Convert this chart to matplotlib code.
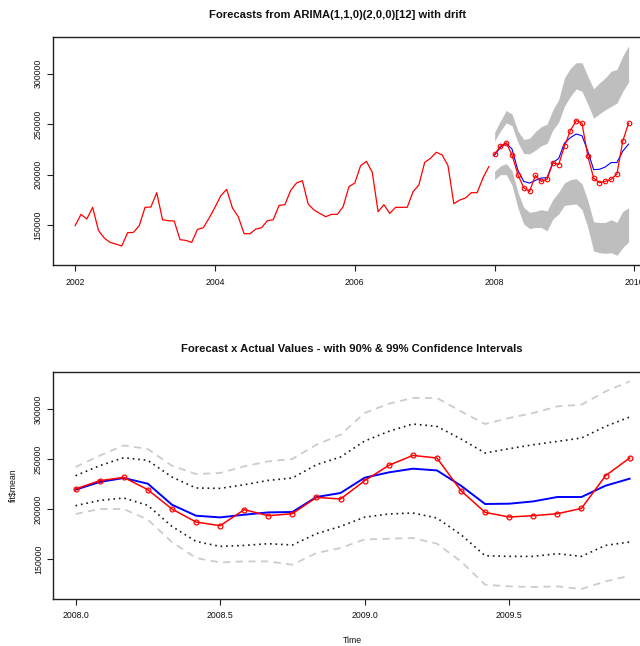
import numpy as np
import matplotlib
matplotlib.use("Agg")
import matplotlib.pyplot as plt

plt.rcParams['font.family'] = ['Liberation Sans', 'DejaVu Sans']

# ---- data ----
hist_start = 2002.0
hist_values = [149400, 160600, 156000, 167600, 144700, 137100, 132800, 131200, 129200, 142400, 142700, 149400,
               167600, 167900, 182100, 155300, 154300, 154000, 135500, 134800, 132800, 145700, 147400, 157000,
               167600, 179100, 185400, 166900, 158300, 141400, 141400, 146000, 147400, 154300, 155300, 169500,
               170200, 184400, 191700, 194000, 170900, 164900, 161600, 158300, 160600, 160600, 168200, 188100,
               191700, 208900, 213200, 202300, 163300, 170200, 161600, 167600, 167600, 167600, 183100, 189700,
               212200, 216200, 222200, 219500, 208900, 171200, 174800, 176800, 182100, 182100, 196700, 207900]

fc_start = 2008.0
actual = [220000, 228300, 231600, 219300, 200000, 187000, 183300, 199300, 193300, 195300, 211600, 210000,
          228300, 243600, 253600, 251000, 218300, 196600, 192000, 193300, 195300, 200600, 233300, 251000]
fc_mean = [219300, 227000, 231000, 225300, 204300, 193300, 191600, 194300, 196600, 197000, 212000, 216000,
           231300, 236600, 240300, 238600, 223300, 205000, 205300, 207600, 212000, 212000, 223300, 230300]
upper90 = [233300, 243300, 251300, 248600, 232000, 221000, 220600, 224300, 228600, 231000, 244300, 252000,
           268000, 277600, 285000, 282600, 270000, 256000, 260300, 264300, 267600, 271000, 282600, 292000]
lower90 = [203300, 208600, 211000, 203600, 182600, 167600, 162600, 163600, 165300, 164000, 175300, 182600,
           191800, 195000, 196000, 191000, 174300, 153300, 152600, 152600, 155300, 152600, 163600, 167000]
upper99 = [242000, 253300, 263600, 260000, 243300, 235000, 236000, 242600, 247600, 250000, 264300, 274300,
           296000, 305300, 311000, 311000, 297600, 285000, 291000, 296000, 302600, 304300, 317600, 327600]
lower99 = [195000, 200000, 200000, 189300, 167000, 151000, 146600, 147600, 147600, 144300, 156000, 161000,
           169600, 170300, 171000, 165300, 147600, 124300, 122600, 122000, 122600, 120000, 127600, 133300]

top_xticks = [2002, 2004, 2006, 2008, 2010]
bot_xticks = [2008.0, 2008.5, 2009.0, 2009.5]
yticks = [150000, 200000, 250000, 300000]

t_hist = hist_start + np.arange(len(hist_values)) / 12.0
t_fc = fc_start + np.arange(len(actual)) / 12.0

W, H = 640, 646
fig = plt.figure(figsize=(W / 100, H / 100), dpi=100)

def px_axes(left, top, right, bottom):
    return fig.add_axes([left / W, 1 - bottom / H, (right - left) / W, (bottom - top) / H])

def style(ax):
    for s in ax.spines.values():
        s.set_linewidth(1.0)
        s.set_color('#222222')
    ax.tick_params(axis='both', direction='out', length=4, width=0.8, color='#222222',
                   labelsize=6.3, labelcolor='#111111')
    ax.tick_params(axis='x', pad=5)
    ax.tick_params(axis='y', pad=3.5)
    ax.set_yticks(yticks)
    ax.set_yticklabels([str(v) for v in yticks], rotation=90, va='center', ha='right')

# ---- top panel ----
ax1 = px_axes(53, 37.3, 650.7, 265)
ax1.fill_between(t_fc, upper90, upper99, color='#bebebe', linewidth=0)
ax1.fill_between(t_fc, lower99, lower90, color='#bebebe', linewidth=0)
ax1.plot(t_hist, hist_values, color='red', lw=0.9)
ax1.plot(t_fc, fc_mean, color='blue', lw=0.8)
ax1.plot(t_fc, actual, color='red', lw=0.9, marker='o', markersize=3.3,
         markerfacecolor='none', markeredgecolor='red', markeredgewidth=0.8)
ax1.set_xlim(2001.683, 2010.233)
ax1.set_ylim(110400, 336200)
ax1.set_xticks(top_xticks)
ax1.set_xticklabels([str(v) for v in top_xticks])
style(ax1)

# ---- bottom panel ----
ax2 = px_axes(53.3, 371.7, 651.7, 599)
ax2.plot(t_fc, upper99, color='#cccccc', lw=1.3, linestyle=(0, (4, 3)))
ax2.plot(t_fc, lower99, color='#cccccc', lw=1.3, linestyle=(0, (4, 3)))
ax2.plot(t_fc, upper90, color='#1a1a1a', lw=1.2, linestyle=(0, (1, 2.3)))
ax2.plot(t_fc, lower90, color='#1a1a1a', lw=1.2, linestyle=(0, (1, 2.3)))
ax2.plot(t_fc, fc_mean, color='blue', lw=1.4)
ax2.plot(t_fc, actual, color='red', lw=1.1, marker='o', markersize=3.5,
         markerfacecolor='none', markeredgecolor='red', markeredgewidth=0.9)
ax2.set_xlim(2007.923, 2009.993)
ax2.set_ylim(110000, 337300)
ax2.set_xticks(bot_xticks)
ax2.set_xticklabels(['%.1f' % v for v in bot_xticks])
style(ax2)

# ---- texts ----
fig.text(337.7 / W, 1 - 15 / H, 'Forecasts from ARIMA(1,1,0)(2,0,0)[12] with drift',
         ha='center', va='center', fontsize=8.1, fontweight='bold', color='#111111')
fig.text(352 / W, 1 - 349 / H, 'Forecast x Actual Values - with 90% & 99% Confidence Intervals',
         ha='center', va='center', fontsize=8.1, fontweight='bold', color='#111111')
fig.text(352 / W, 1 - 640.5 / H, 'Time', ha='center', va='center', fontsize=6.3, color='#111111')
fig.text(13.3 / W, 1 - 485 / H, 'fit$mean', ha='center', va='center', rotation=90,
         fontsize=6.3, color='#111111')

fig.savefig('out.png', dpi=100)
